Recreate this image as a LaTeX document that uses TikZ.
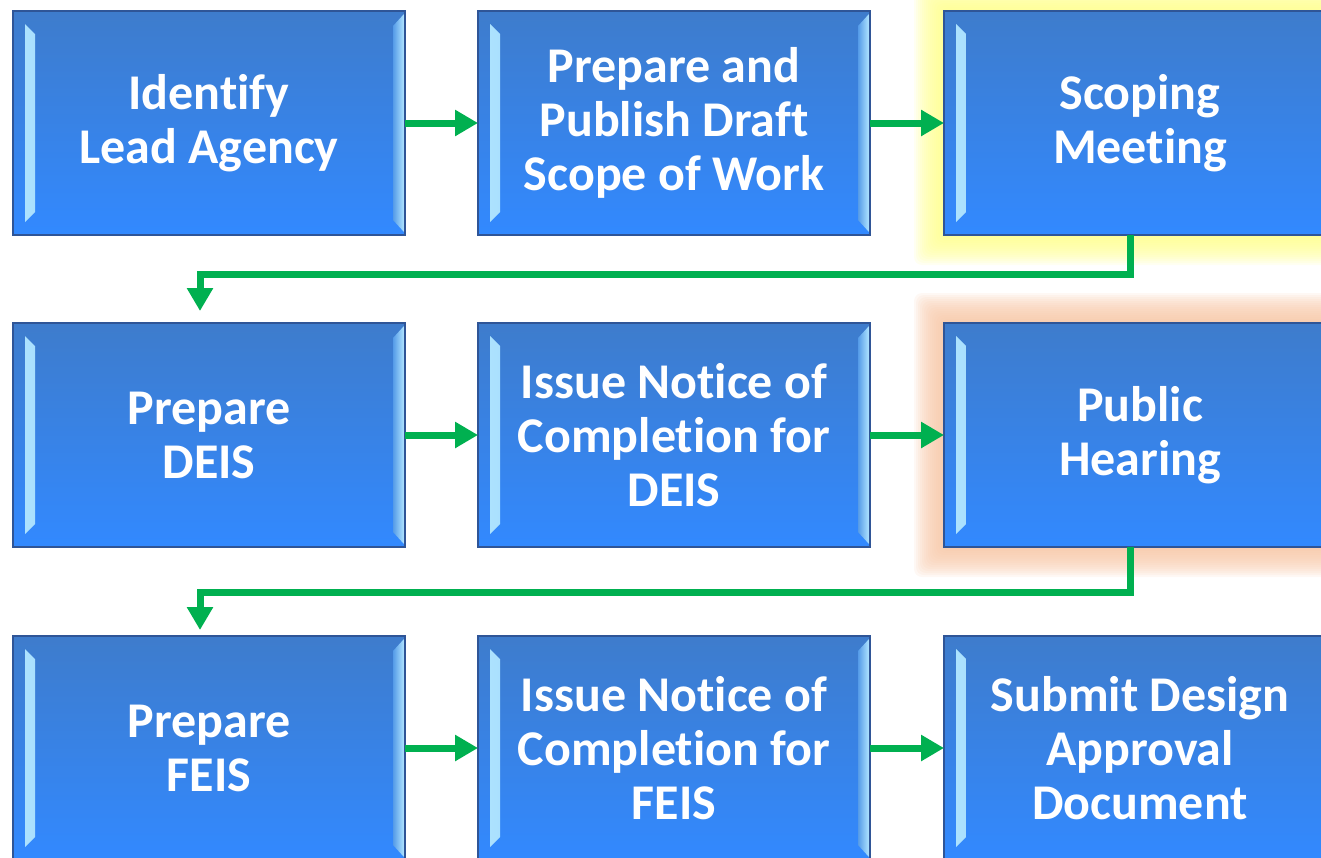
\documentclass[tikz,border=0pt]{standalone}
\usepackage{fontspec}
\setmainfont{Carlito}[Ligatures=NoCommon]
\usetikzlibrary{arrows.meta,
                positioning,
                backgrounds}
\definecolor{boxtop}{RGB}{62,124,204}
\definecolor{boxbottom}{RGB}{50,137,255}
\definecolor{boxedge}{RGB}{47,85,151}
\definecolor{bevellight}{RGB}{175,228,255}
\definecolor{beveldark}{RGB}{85,155,232}
\definecolor{flowgreen}{RGB}{0,176,80}
\definecolor{glowyellow}{RGB}{255,255,140}
\definecolor{gloworange}{RGB}{247,198,165}
\tikzset{block/.style=
   {rectangle,
    draw=boxedge,
    line width=1.2pt,
    top color=boxtop,
    bottom color=boxbottom,
    text=white,
    font=\fontsize{50}{54}\selectfont\bfseries,
    align=center,
    inner sep=0pt,
    outer sep=0pt,
    minimum width=392pt,
    minimum height=224pt,
    path picture={
      \shade[left color=bevellight, right color=beveldark]
        ([shift={(12pt,-13pt)}]path picture bounding box.north west)
        -- ([shift={(22pt,-23pt)}]path picture bounding box.north west)
        -- ([shift={(22pt,23pt)}]path picture bounding box.south west)
        -- ([shift={(12pt,13pt)}]path picture bounding box.south west) -- cycle;
      \shade[left color=beveldark, right color=bevellight]
        ([shift={(-1pt,-3pt)}]path picture bounding box.north east)
        -- ([shift={(-12pt,-15pt)}]path picture bounding box.north east)
        -- ([shift={(-12pt,15pt)}]path picture bounding box.south east)
        -- ([shift={(-1pt,3pt)}]path picture bounding box.south east) -- cycle;
    }}}
\tikzset{arrow/.style = {draw=flowgreen, line width=7pt, -{Triangle[length=23pt,width=25pt]}}}
\tikzset{glow/.style = {opacity=0.12, rounded corners=8pt}}

\begin{document}
\begin{tikzpicture}[x=1pt, y=-1pt]

    \useasboundingbox (0,0) rectangle (1321,857);
    \clip (0,0) rectangle (1321,857);

    % Place nodes
    \node [block] (identify) at (209,123) {Identify\\Lead Agency};
    \node [block, right=73pt of identify] (draft) {Prepare and\\Publish Draft\\Scope of Work};
    \node [block, right=74pt of draft] (scoping) {Scoping\\Meeting};

    \node [block, below=88pt of identify] (deis) {Prepare\\DEIS};
    \node [block, right=73pt of deis] (noticedeis) {Issue Notice of\\Completion for\\DEIS};
    \node [block, right=74pt of noticedeis] (hearing) {Public\\Hearing};

    \node [block, below=89pt of deis] (feis) {Prepare\\FEIS};
    \node [block, right=73pt of feis] (noticefeis) {Issue Notice of\\Completion for\\FEIS};
    \node [block, right=74pt of noticefeis] (approval) {Submit Design\\Approval\\Document};

    % Glow behind highlighted steps
    \begin{scope}[on background layer]
        \foreach \g in {1,...,15} {
            \fill [glow, glowyellow]
            ([shift={(-2pt*\g,2pt*\g)}] scoping.north west)
            rectangle ([shift={(2pt*\g,-2pt*\g)}] scoping.south east);
            \fill [glow, gloworange]
            ([shift={(-2pt*\g,2pt*\g)}] hearing.north west)
            rectangle ([shift={(2pt*\g,-2pt*\g)}] hearing.south east);
        }
    \end{scope}

    % Draw edges
    \path [arrow] (identify) -- (draft);
    \path [arrow] (draft) -- (scoping);
    \path [arrow] (deis) -- (noticedeis);
    \path [arrow] (noticedeis) -- (hearing);
    \path [arrow] (feis) -- (noticefeis);
    \path [arrow] (noticefeis) -- (approval);

    \path [arrow]
    ([xshift=-10pt] scoping.south) -- ++(0,39)
    -| ([xshift=-9pt, yshift=12pt] deis.north);

    \path [arrow]
    ([xshift=-10pt] hearing.south) -- ++(0,45)
    -| ([xshift=-9pt, yshift=6pt] feis.north);

\end{tikzpicture}
\end{document}
